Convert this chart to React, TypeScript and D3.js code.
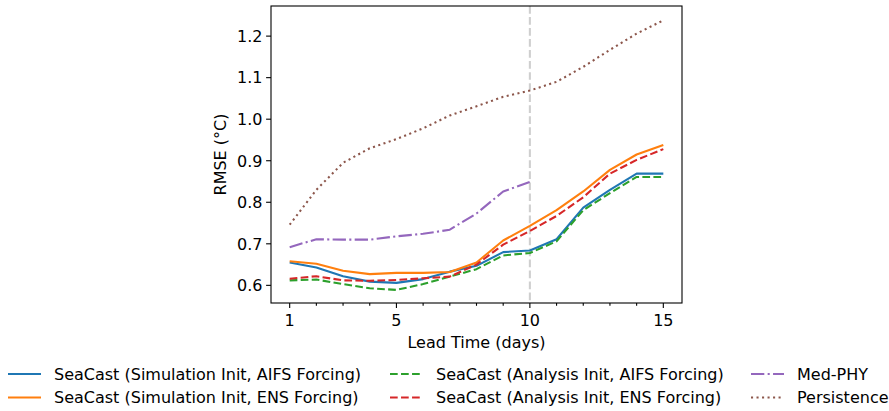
import React from "react";
import * as d3 from "d3";

const leadDays = [1, 2, 3, 4, 5, 6, 7, 8, 9, 10, 11, 12, 13, 14, 15];
const simAifs = [0.655, 0.643, 0.622, 0.609, 0.606, 0.615, 0.633, 0.647, 0.68, 0.684, 0.711, 0.787, 0.83, 0.869, 0.869];
const simEns = [0.658, 0.652, 0.635, 0.627, 0.63, 0.63, 0.632, 0.655, 0.708, 0.743, 0.781, 0.826, 0.878, 0.915, 0.938];
const anaAifs = [0.612, 0.614, 0.603, 0.593, 0.589, 0.603, 0.621, 0.639, 0.672, 0.678, 0.706, 0.781, 0.822, 0.861, 0.861];
const anaEns = [0.616, 0.622, 0.612, 0.611, 0.613, 0.617, 0.621, 0.65, 0.698, 0.731, 0.767, 0.812, 0.869, 0.902, 0.928];
const medPhyDays = [1, 2, 3, 4, 5, 6, 7, 8, 9, 10];
const medPhy = [0.692, 0.711, 0.71, 0.71, 0.718, 0.724, 0.734, 0.773, 0.826, 0.849];
const persistence = [0.746, 0.83, 0.895, 0.93, 0.952, 0.978, 1.009, 1.031, 1.054, 1.069, 1.09, 1.126, 1.167, 1.206, 1.238];

const xMajorTicks = [1, 5, 10, 15];
const yTicks = [0.6, 0.7, 0.8, 0.9, 1.0, 1.1, 1.2];

const seriesNames = [
  "SeaCast (Simulation Init, AIFS Forcing)",
  "SeaCast (Simulation Init, ENS Forcing)",
  "SeaCast (Analysis Init, AIFS Forcing)",
  "SeaCast (Analysis Init, ENS Forcing)",
  "Med-PHY",
  "Persistence",
];

const LW = 2.08;
const DASHED = `${3.7 * LW} ${1.6 * LW}`;
const DASHDOT = `${6.4 * LW} ${1.6 * LW} ${1 * LW} ${1.6 * LW}`;
const DOTTED = `${1 * LW} ${1.65 * LW}`;

const series = [
  { name: seriesNames[0], xs: leadDays, ys: simAifs, color: "#1f77b4", dash: undefined },
  { name: seriesNames[1], xs: leadDays, ys: simEns, color: "#ff7f0e", dash: undefined },
  { name: seriesNames[2], xs: leadDays, ys: anaAifs, color: "#2ca02c", dash: DASHED },
  { name: seriesNames[3], xs: leadDays, ys: anaEns, color: "#d62728", dash: DASHED },
  { name: seriesNames[4], xs: medPhyDays, ys: medPhy, color: "#9467bd", dash: DASHDOT },
  { name: seriesNames[5], xs: leadDays, ys: persistence, color: "#8c564b", dash: DOTTED },
];

const FONT = "'DejaVu Sans', sans-serif";
const FS = 16;

export default function App() {
  const left = 271, right = 682, top = 6, bottom = 303;
  const x = d3.scaleLinear().domain([0.3, 15.7]).range([left, right]);
  const y = d3.scaleLinear().domain([0.5575, 1.2725]).range([bottom, top]);
  const line = (xs: number[], ys: number[]) =>
    d3.line<number>().x((_, i) => x(xs[i])).y((d) => y(d))(ys) || "";

  // legend layout (matplotlib ncol=3 fills columns first)
  const colX = [8, 390, 751];
  const rowY = [374, 397.5];
  const handleLen = 33;

  return (
    <svg width={889} height={411} style={{ position: "absolute", left: 0, top: 0, background: "#fff" }} fontFamily={FONT}>
      <rect x={0} y={0} width={889} height={411} fill="#fff" />
      <line x1={x(10)} x2={x(10)} y1={top} y2={bottom} stroke="#cfcfcf" strokeWidth={LW} strokeDasharray={DASHED} />
      {series.map((s) => (
        <path key={s.name} d={line(s.xs, s.ys)} fill="none" stroke={s.color} strokeWidth={LW}
          strokeDasharray={s.dash} strokeLinejoin="round" />
      ))}
      <rect x={left} y={top} width={right - left} height={bottom - top} fill="none" stroke="#000" strokeWidth={1.1} />
      {leadDays.map((d) => {
        const major = xMajorTicks.includes(d);
        return (
          <line key={"xt" + d} x1={x(d)} x2={x(d)} y1={bottom} y2={bottom + (major ? 4.9 : 2.8)} stroke="#000" strokeWidth={1.1} />
        );
      })}
      {xMajorTicks.map((d) => (
        <text key={"xl" + d} x={x(d)} y={326} textAnchor="middle" fontSize={FS} fill="#000">
          {d}
        </text>
      ))}
      <text x={(left + right) / 2} y={347.5} textAnchor="middle" fontSize={FS} fill="#000">Lead Time (days)</text>
      {yTicks.map((t) => (
        <g key={"yt" + t}>
          <line x1={left - 4.9} x2={left} y1={y(t)} y2={y(t)} stroke="#000" strokeWidth={1.1} />
          <text x={left - 8.5} y={y(t) + 5.8} textAnchor="end" fontSize={FS} fill="#000">
            {t.toFixed(1)}
          </text>
        </g>
      ))}
      <text transform={`translate(${226},${(top + bottom) / 2}) rotate(-90)`} textAnchor="middle" fontSize={FS} fill="#000">
        RMSE (°C)
      </text>
      {series.map((s, i) => {
        const col = Math.floor(i / 2);
        const row = i % 2;
        const lx = colX[col];
        const ly = rowY[row];
        return (
          <g key={"lg" + i}>
            <line x1={lx} x2={lx + handleLen} y1={ly} y2={ly} stroke={s.color} strokeWidth={LW} strokeDasharray={s.dash} />
            <text x={lx + handleLen + 13} y={ly + 5.8} fontSize={FS} fill="#000">{s.name}</text>
          </g>
        );
      })}
    </svg>
  );
}
